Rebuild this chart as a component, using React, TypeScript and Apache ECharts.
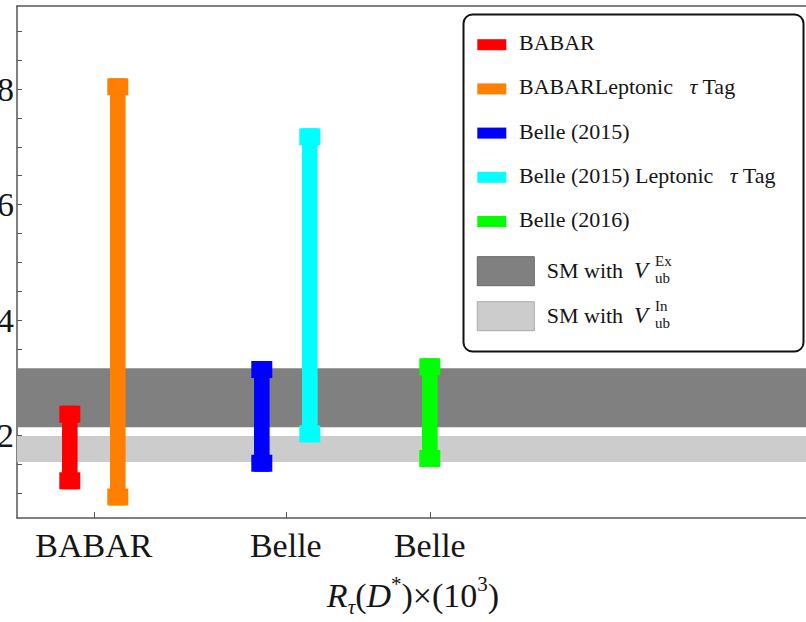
import React, { useEffect, useRef } from "react";
import * as echarts from "echarts";

// ---- data ----
const tickCategories = ["BABAR", "Belle", "Belle"];
const tickPositions = [3, 11, 17];
const seriesNames = ["BABAR", "BABARLeptonic", "Belle (2015)", "Belle (2015) Leptonic", "Belle (2016)"];
const seriesTauTag = [false, true, false, true, false];
const seriesColors = ["#ff0000", "#ff8000", "#0000ff", "#00ffff", "#00ff00"];
const seriesX = [2, 4, 10, 12, 17];
const seriesLow = [1.07, 0.79, 1.375, 1.884, 1.456];
const seriesHigh = [2.518, 8.187, 3.292, 7.321, 3.339];
const bandSups = ["Ex", "In"];
const bandLow = [2.144, 1.543];
const bandHigh = [3.165, 1.993];
const bandColors = ["#808080", "#cccccc"];
const bandBorders = ["#666666", "#aaaaaa"];
const yTickValues = [1, 1.5, 2, 2.5, 3, 3.5, 4, 4.5, 5, 5.5, 6, 6.5, 7, 7.5, 8, 8.5, 9];
const yLabelValues = [2, 4, 6, 8];

const SERIF = "'Liberation Serif', 'Times New Roman', serif";
const TXT = "#151515";

export default function App() {
  const ref = useRef<HTMLDivElement>(null);
  useEffect(() => {
    if (!ref.current) return;
    const chart = echarts.init(ref.current, null, { renderer: "svg" });

    const gridLeft = 17, gridTop = 6, gridW = 808, gridH = 512;
    const xMin = -0.2, xMax = -0.2 + gridW / 24;

    const bandSeries = bandLow.map((lo, i) => ({
      type: "custom",
      name: "band" + i,
      z: 1,
      data: [[lo, bandHigh[i]]],
      encode: { x: [], y: [0, 1] },
      renderItem: (params: any, api: any) => {
        const cs = params.coordSys;
        const yTop = api.coord([xMin, api.value(1)])[1];
        const yBot = api.coord([xMin, api.value(0)])[1];
        return {
          type: "rect",
          shape: { x: cs.x, y: yTop, width: cs.width, height: yBot - yTop },
          style: { fill: bandColors[i], stroke: "none", lineWidth: 0 },
        };
      },
    }));

    const barSeries = seriesNames.map((n, i) => ({
      type: "custom",
      name: n,
      z: 5,
      data: [[seriesX[i], seriesLow[i], seriesHigh[i]]],
      encode: { x: 0, y: [1, 2] },
      renderItem: (params: any, api: any) => {
        const x = api.value(0);
        const pTop = api.coord([x, api.value(2)]);
        const pBot = api.coord([x, api.value(1)]);
        const cx = pTop[0];
        const bodyW = 15.6, capW = 21, capH = 17;
        const fill = seriesColors[i];
        const st = { fill, stroke: "none", lineWidth: 0 };
        return {
          type: "group",
          children: [
            { type: "rect", shape: { x: cx - bodyW / 2, y: pTop[1], width: bodyW, height: pBot[1] - pTop[1] }, style: st },
            { type: "rect", shape: { x: cx - capW / 2, y: pTop[1], width: capW, height: capH }, style: st },
            { type: "rect", shape: { x: cx - capW / 2, y: pBot[1] - capH, width: capW, height: capH }, style: st },
          ],
        };
      },
    }));

    // legend graphic
    const legendChildren: any[] = [
      {
        type: "rect",
        shape: { x: 463.5, y: 14.5, width: 340, height: 337, r: 9 },
        style: { fill: "#ffffff", stroke: "#111111", lineWidth: 2 },
      },
    ];
    seriesNames.forEach((n, i) => {
      const cy = 44.7 + i * 44.2;
      legendChildren.push({
        type: "rect",
        shape: { x: 477.3, y: cy - 5.5, width: 29, height: 11 },
        style: { fill: seriesColors[i] },
      });
      legendChildren.push({
        type: "text",
        x: 519,
        y: cy - 2,
        style: {
          text: seriesTauTag[i] ? "{n|" + n + "}{n|   }{i|τ}{n| Tag}" : "{n|" + n + "}",
          rich: {
            n: { fontFamily: SERIF, fontSize: 22, fill: TXT },
            i: { fontFamily: SERIF, fontSize: 22, fontStyle: "italic", fill: TXT },
          },
          verticalAlign: "middle",
          align: "left",
        },
      });
    });
    bandSups.forEach((s, i) => {
      const top = 256.7 + i * 45;
      legendChildren.push({
        type: "rect",
        shape: { x: 477.3, y: top, width: 57, height: 29 },
        style: { fill: bandColors[i], stroke: bandBorders[i], lineWidth: 1 },
      });
      legendChildren.push({
        type: "text",
        x: 546.7,
        y: top + 13.5,
        style: { text: "SM with", fontFamily: SERIF, fontSize: 22, fill: TXT, verticalAlign: "middle" },
      });
      legendChildren.push({
        type: "text",
        x: 634,
        y: top + 13.5,
        style: { text: "V", fontFamily: SERIF, fontSize: 23, fontStyle: "italic", fill: TXT, verticalAlign: "middle" },
      });
      legendChildren.push({
        type: "text",
        x: 655,
        y: top + 4.5,
        style: { text: s, fontFamily: SERIF, fontSize: 15, lineHeight: 12, fill: TXT, verticalAlign: "middle" },
      });
      legendChildren.push({
        type: "text",
        x: 655,
        y: top + 21,
        style: { text: "ub", fontFamily: SERIF, fontSize: 15, lineHeight: 12, fill: TXT, verticalAlign: "middle" },
      });
    });

    const axisLineStyle = { color: "#555555", width: 1.5 };

    chart.setOption({
      animation: false,
      grid: {
        left: gridLeft,
        top: gridTop,
        width: gridW,
        height: gridH,
        show: false,
        outerBoundsMode: "none",
      },
      xAxis: [
        {
          type: "value",
          min: xMin,
          max: xMax,
          name: "{ri|R}{sub|τ}{n|(}{ri|D}{sup|*}{n|)×(10}{sup|3}{n|)}",
          nameLocation: "middle",
          nameGap: 55,
          nameTextStyle: {
            padding: [0, 16, 0, 0],
            rich: {
              n: { fontFamily: SERIF, fontSize: 34, lineHeight: 44, color: TXT },
              ri: { fontFamily: SERIF, fontSize: 34, lineHeight: 44, fontStyle: "italic", color: TXT },
              sub: { fontFamily: SERIF, fontSize: 21, lineHeight: 26, fontStyle: "italic", verticalAlign: "bottom", color: TXT },
              sup: { fontFamily: SERIF, fontSize: 21, lineHeight: 28, verticalAlign: "top", color: TXT },
            },
          },
          axisLine: { show: true, onZero: false, lineStyle: axisLineStyle },
          axisTick: { show: true, inside: true, length: 6, customValues: tickPositions, lineStyle: { color: "#555555" } },
          axisLabel: {
            customValues: tickPositions,
            formatter: (v: number) => tickCategories[tickPositions.indexOf(v)] ?? "",
            fontFamily: SERIF,
            fontSize: 34,
            color: TXT,
            margin: 10,
          },
          splitLine: { show: false },
        },
        {
          type: "value",
          position: "top",
          min: xMin,
          max: xMax,
          axisLine: { show: true, onZero: false, lineStyle: axisLineStyle },
          axisTick: { show: false },
          axisLabel: { show: false },
          splitLine: { show: false },
        },
      ],
      yAxis: {
        type: "value",
        min: 0.573,
        max: 9.439,
        axisLine: { show: true, onZero: false, lineStyle: axisLineStyle },
        axisTick: { show: true, inside: true, length: 5, customValues: yTickValues, lineStyle: { color: "#555555" } },
        axisLabel: {
          customValues: yLabelValues,
          formatter: (v: number) => String(v),
          fontFamily: SERIF,
          fontSize: 34,
          color: TXT,
          margin: 3,
        },
        splitLine: { show: false },
      },
      series: [...bandSeries, ...barSeries],
      graphic: [{ type: "group", z: 100, children: legendChildren }],
    } as any);

    return () => chart.dispose();
  }, []);

  return (
    <div style={{ position: "absolute", left: 0, top: 0, width: 806, height: 622, overflow: "hidden", background: "#fff" }}>
      <div ref={ref} style={{ width: 806, height: 622 }} />
    </div>
  );
}
